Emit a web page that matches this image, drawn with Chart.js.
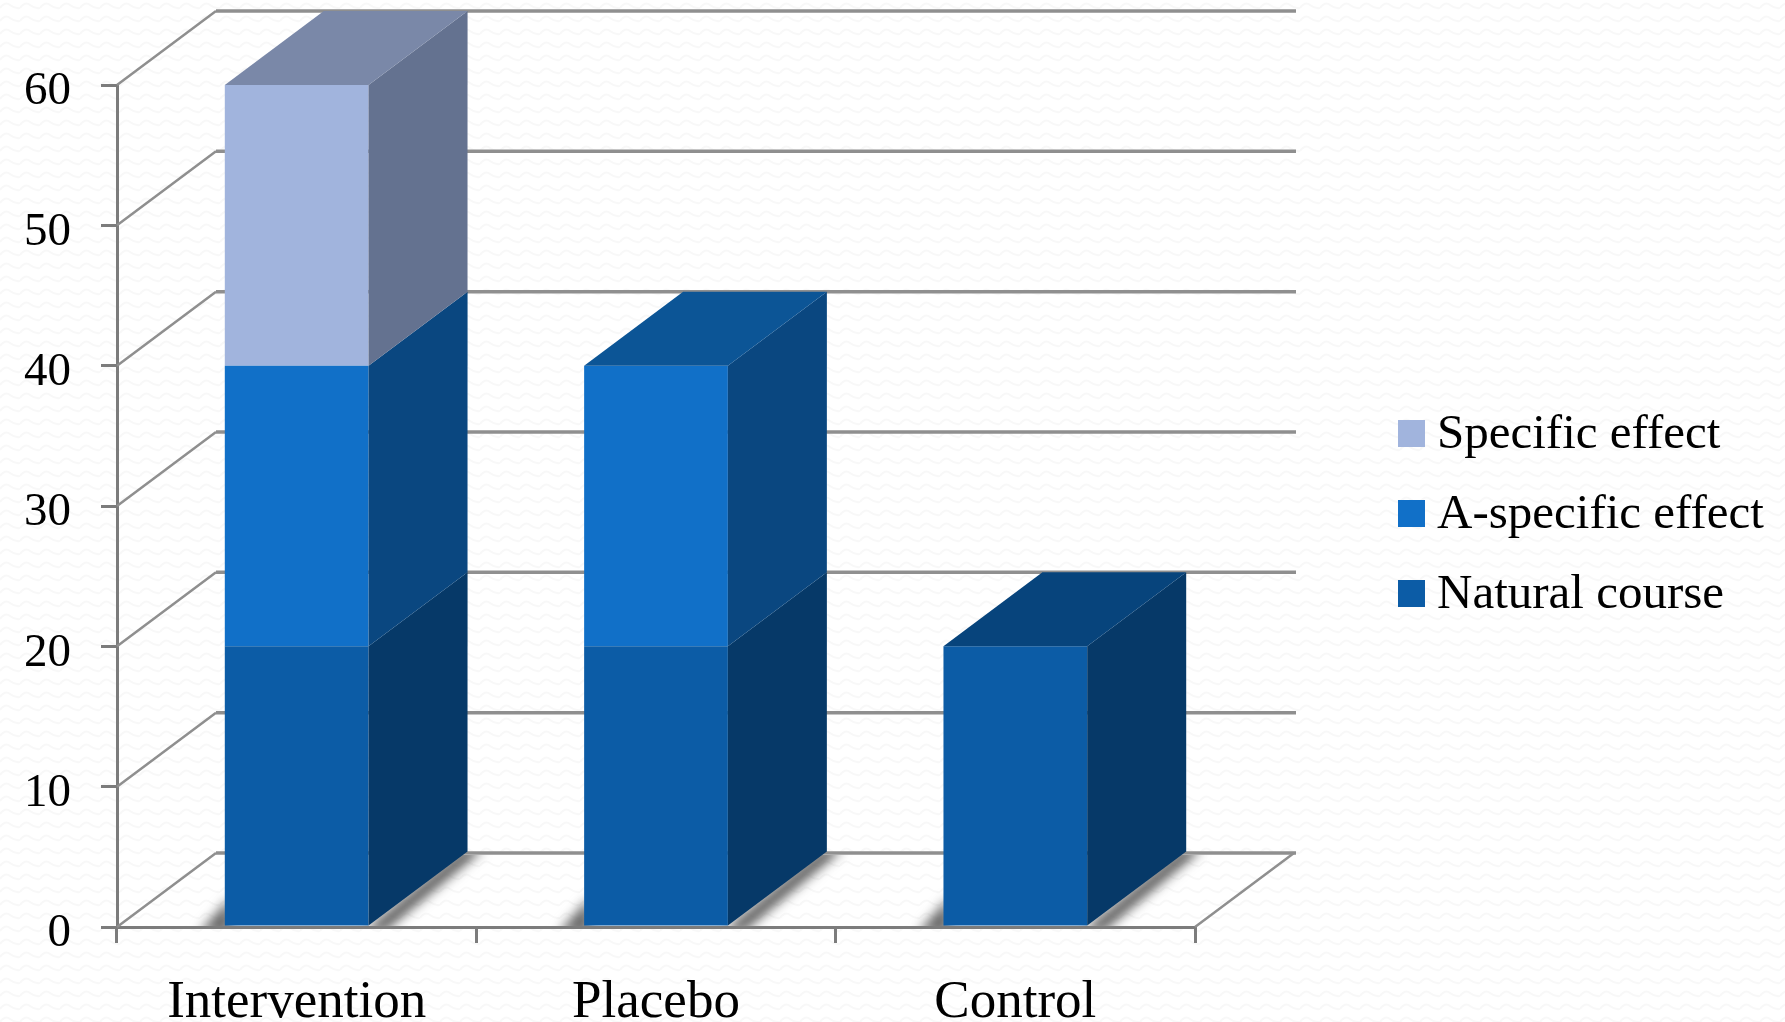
<!DOCTYPE html>
<html>
<head>
<meta charset="utf-8">
<title>Effect by group</title>
<script src="https://cdn.jsdelivr.net/npm/chart.js@4/dist/chart.umd.min.js"></script>
<style>
    html, body {
        margin: 0;
        padding: 0;
        background-color: #ffffff;
        /* faint wavy paper texture */
        background-image: url("data:image/svg+xml,%3Csvg xmlns='http://www.w3.org/2000/svg' width='20' height='13'%3E%3Cpath d='M0 8 Q5 1 10 5 T20 8' fill='none' stroke='%23f8f8f8' stroke-width='2'/%3E%3C/svg%3E");
    }
    #wrap {
        position: relative;
        width: 1785px;
        height: 1022px;
        overflow: hidden;
    }
    #legend {
        position: absolute;
        left: 1398px;
        top: 391px;
        font-family: "Liberation Serif", serif;
        font-size: 49px;
        color: #000;
    }
    .legend-row {
        display: flex;
        align-items: center;
        height: 80px;
        white-space: nowrap;
    }
    .legend-box {
        width: 27px;
        height: 27px;
        margin-top: 4px;
        margin-right: 12px;
    }
</style>
</head>
<body>
<div id="wrap">
    <canvas id="chart" width="1785" height="1022"></canvas>
    <div id="legend"></div>
</div>
<script>
const categories = ['Intervention', 'Placebo', 'Control'];
const naturalCourse = [20, 20, 20];
const aSpecificEffect = [20, 20, 0];
const specificEffect = [20, 0, 0];

// depth of the fake 3D box, in pixels
const depthX = 99;
const depthY = 74;

const gridColor = '#8f8f8f';
const axisColor = '#7c7c7c';

// front, side and top face colours per series
const faceColors = {
    'Natural course': { front: '#0c5ca6', side: '#063968', top: '#07447c' },
    'A-specific effect': { front: '#1170c8', side: '#0a4780', top: '#0c5596' },
    'Specific effect': { front: '#a1b4dd', side: '#647290', top: '#7a88a8' }
};

function fillPoly(ctx, points, color) {
    ctx.fillStyle = color;
    ctx.beginPath();
    points.forEach((p, i) => i ? ctx.lineTo(p[0], p[1]) : ctx.moveTo(p[0], p[1]));
    ctx.closePath();
    ctx.fill();
}

function strokeLine(ctx, x1, y1, x2, y2, color, width) {
    ctx.strokeStyle = color;
    ctx.lineWidth = width;
    ctx.beginPath();
    ctx.moveTo(x1, y1);
    ctx.lineTo(x2, y2);
    ctx.stroke();
}

// back wall, side wall and floor edges
const wallsPlugin = {
    id: 'walls',
    beforeDatasetsDraw(chart) {
        const { ctx, chartArea, scales } = chart;
        ctx.save();
        scales.y.ticks.forEach(tick => {
            const y = scales.y.getPixelForValue(tick.value);
            strokeLine(ctx, chartArea.left, y, chartArea.left + depthX, y - depthY, gridColor, 2.5);
            strokeLine(ctx, chartArea.left + depthX, y - depthY, chartArea.right + depthX + 2, y - depthY, gridColor, 3.5);
        });
        strokeLine(ctx, chartArea.right, chartArea.bottom, chartArea.right + depthX, chartArea.bottom - depthY, gridColor, 2.5);

        // soft shadows the boxes throw on the floor
        const floorTop = chartArea.bottom - depthY + 2;
        ctx.beginPath();
        ctx.rect(chartArea.left, floorTop, chartArea.width + depthX, depthY - 3);
        ctx.clip();
        ctx.filter = 'blur(6px)';
        chart.getDatasetMeta(0).data.forEach(bar => {
            const left = bar.x - bar.width / 2;
            const right = bar.x + bar.width / 2;
            fillPoly(ctx, [
                [right - 4, chartArea.bottom + 4],
                [right + depthX - 4, chartArea.bottom - depthY - 4],
                [right + depthX + 16, chartArea.bottom - depthY - 4],
                [right + 16, chartArea.bottom + 4]
            ], '#555555');
            fillPoly(ctx, [
                [left - 26, chartArea.bottom + 6],
                [left + 6, chartArea.bottom + 6],
                [left + 6, chartArea.bottom - 30]
            ], '#666666');
        });
        ctx.restore();
    },
    // side faces and lids go on top of the flat bars
    afterDatasetsDraw(chart) {
        const { ctx } = chart;
        ctx.save();
        const topOfStack = {};
        chart.data.datasets.forEach((dataset, d) => {
            const colors = faceColors[dataset.label];
            chart.getDatasetMeta(d).data.forEach((bar, i) => {
                if (!dataset.data[i]) return;
                const right = bar.x + bar.width / 2;
                fillPoly(ctx, [
                    [right, bar.y],
                    [right + depthX, bar.y - depthY],
                    [right + depthX, bar.base - depthY],
                    [right, bar.base]
                ], colors.side);
                topOfStack[i] = { bar, color: colors.top };
            });
        });
        Object.values(topOfStack).forEach(({ bar, color }) => {
            const left = bar.x - bar.width / 2;
            const right = bar.x + bar.width / 2;
            fillPoly(ctx, [
                [left, bar.y],
                [left + depthX, bar.y - depthY],
                [right + depthX, bar.y - depthY],
                [right, bar.y]
            ], color);
        });
        ctx.restore();
    }
};

// legend sits in the page so the plot area stays where it is
const htmlLegendPlugin = {
    id: 'htmlLegend',
    afterUpdate(chart) {
        const box = document.getElementById('legend');
        box.innerHTML = chart.data.datasets.slice().reverse().map(ds =>
            `<div class="legend-row"><span class="legend-box" style="background:${ds.backgroundColor}"></span>${ds.label}</div>`
        ).join('');
    }
};

function series(label, data) {
    return {
        label: label,
        data: data,
        backgroundColor: faceColors[label].front,
        borderWidth: 0,
        barPercentage: 0.4,
        categoryPercentage: 1
    };
}

new Chart(document.getElementById('chart').getContext('2d'), {
    type: 'bar',
    data: {
        labels: categories,
        datasets: [
            series('Natural course', naturalCourse),
            series('A-specific effect', aSpecificEffect),
            series('Specific effect', specificEffect)
        ]
    },
    options: {
        responsive: false,
        animation: false,
        layout: { padding: { top: 85, right: 590 } },
        plugins: {
            legend: { display: false },
            title: { display: false },
            tooltip: { enabled: false }
        },
        scales: {
            x: {
                stacked: true,
                afterFit(scale) { scale.height = 95; },
                grid: { drawOnChartArea: false, color: axisColor, lineWidth: 3, tickLength: 16 },
                border: { color: axisColor, width: 3 },
                ticks: {
                    color: '#000',
                    padding: 28,
                    maxRotation: 0,
                    font: { family: '"Liberation Serif", serif', size: 53 }
                }
            },
            y: {
                stacked: true,
                min: 0,
                max: 60,
                afterFit(scale) { scale.width = 117; },
                grid: { drawOnChartArea: false, color: axisColor, lineWidth: 3, tickLength: 16 },
                border: { color: axisColor, width: 3 },
                ticks: {
                    color: '#000',
                    stepSize: 10,
                    padding: 30,
                    labelOffset: 7,
                    font: { family: '"Liberation Serif", serif', size: 47 }
                }
            }
        }
    },
    plugins: [wallsPlugin, htmlLegendPlugin]
});
</script>
</body>
</html>
